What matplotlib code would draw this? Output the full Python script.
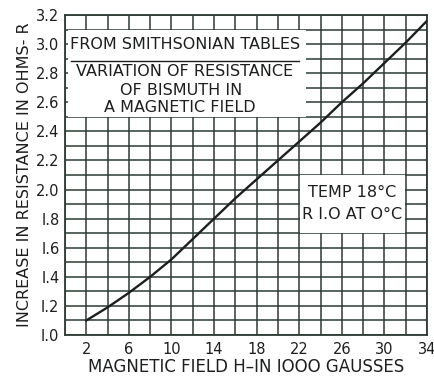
import numpy as np
import matplotlib
matplotlib.use("Agg")
import matplotlib.pyplot as plt
from matplotlib.patches import Rectangle

# Значення
field_kgauss = [2, 4, 6, 8, 10, 12, 14, 16, 18, 20, 22, 24, 26, 28, 30, 32, 34]
resistance = [1.10, 1.19, 1.29, 1.40, 1.52, 1.66, 1.80, 1.94, 2.07, 2.20,
              2.33, 2.46, 2.60, 2.73, 2.87, 3.01, 3.16]
x_tick_values = [2, 6, 10, 14, 18, 22, 26, 30, 34]
y_tick_values = [1.0, 1.2, 1.4, 1.6, 1.8, 2.0, 2.2, 2.4, 2.6, 2.8, 3.0, 3.2]
y_tick_labels = ["I.0", "I.2", "I.4", "I.6", "I.8", "2.0", "2.2", "2.4",
                 "2.6", "2.8", "3.0", "3.2"]

INK = "#1c1f1d"
GRID = "#2e3a33"

plt.rcParams["font.family"] = ["DejaVu Sans"]

fig = plt.figure(figsize=(4.35, 3.78), dpi=100)
ax = fig.add_axes([65 / 435, 1 - 335 / 378, 362 / 435, 320 / 378])

ax.plot(field_kgauss, resistance, color=INK, linewidth=1.7, zorder=3)

ax.set_xlim(0, 34)
ax.set_ylim(1.0, 3.2)
ax.set_xticks(x_tick_values)
ax.set_yticks(y_tick_values)
ax.set_yticklabels(y_tick_labels)
ax.set_xticks(np.arange(0, 35, 2), minor=True)
ax.set_yticks(np.arange(1.0, 3.25, 0.1), minor=True)
ax.tick_params(which="both", length=0, colors=INK, labelsize=10.5)
ax.tick_params(axis="x", pad=5)
ax.tick_params(axis="y", pad=4)
ax.grid(which="both", color=GRID, linewidth=1.1)
ax.set_axisbelow(True)
for s in ax.spines.values():
    s.set_color(GRID)
    s.set_linewidth(1.3)

# Білі поля з написами
ax.add_patch(Rectangle((0.25, 2.5), 22.35, 0.6, facecolor="white",
                       edgecolor="none", zorder=1))
ax.add_patch(Rectangle((22.05, 1.7), 9.85, 0.4, facecolor="white",
                       edgecolor="none", zorder=1))

txt = dict(color=INK, fontsize=11.5, ha="center", va="center", zorder=4)
ax.text(11.3, 3.0, "FROM SMITHSONIAN TABLES", **txt)
ax.plot([0.6, 22.0], [2.885, 2.885], color=INK, linewidth=1.0, zorder=4)
ax.text(11.2, 2.81, "VARIATION OF RESISTANCE", **txt)
ax.text(10.9, 2.68, "OF BISMUTH IN", **txt)
ax.text(10.8, 2.565, "A MAGNETIC FIELD", **txt)
ax.text(27.0, 1.98, "TEMP 18°C", **txt)
ax.text(27.0, 1.83, "R I.O AT O°C", **txt)

ax.set_xlabel("MAGNETIC FIELD H–IN IOOO GAUSSES", color=INK, fontsize=12,
              labelpad=1)
ax.set_ylabel("INCREASE IN RESISTANCE IN OHMS- R", color=INK, fontsize=11.5,
              labelpad=3)

fig.savefig("out.png", dpi=100)
